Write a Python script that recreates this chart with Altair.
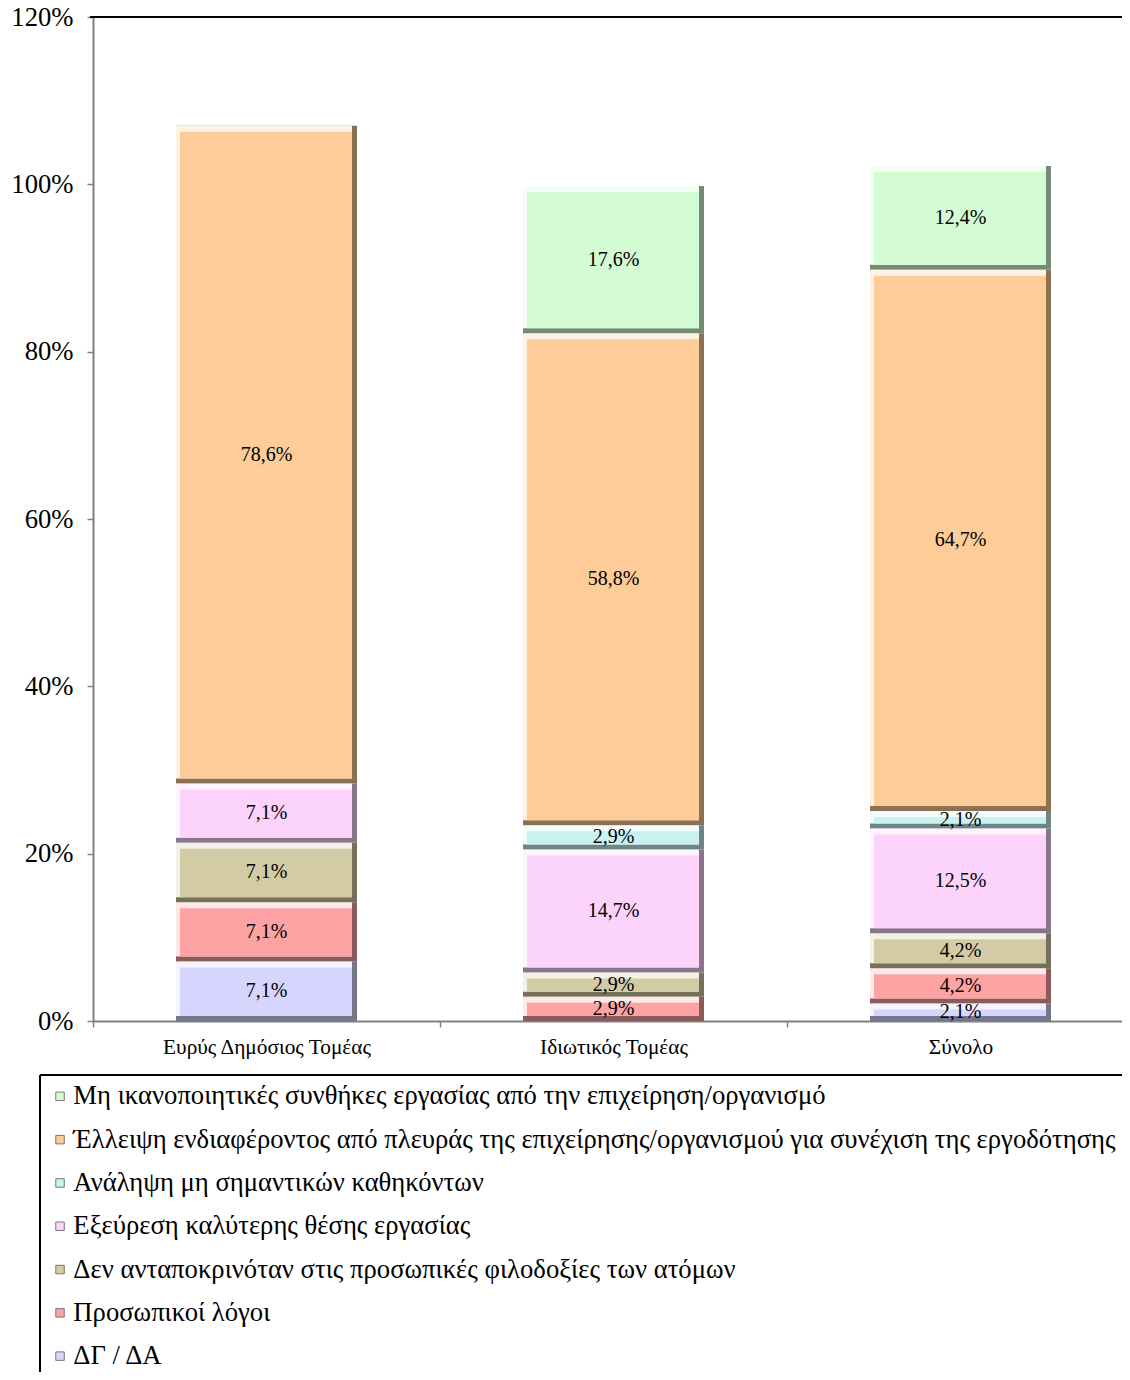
import altair as alt
import pandas as pd

categories = ["Ευρύς Δημόσιος Τομέας", "Ιδιωτικός Τομέας", "Σύνολο"]

# series listed bottom -> top of the stack
series = [
    "ΔΓ / ΔΑ",
    "Προσωπικοί λόγοι",
    "Δεν ανταποκρινόταν στις προσωπικές φιλοδοξίες των ατόμων",
    "Εξεύρεση καλύτερης θέσης εργασίας",
    "Ανάληψη μη σημαντικών καθηκόντων",
    "Έλλειψη ενδιαφέροντος από πλευράς της επιχείρησης/οργανισμού για συνέχιση της εργοδότησης",
    "Μη ικανοποιητικές συνθήκες εργασίας από την επιχείρηση/οργανισμό",
]

val_dg = [7.1, 0.0, 2.1]
val_pros = [7.1, 2.9, 4.2]
val_den = [7.1, 2.9, 4.2]
val_exe = [7.1, 14.7, 12.5]
val_anal = [0.0, 2.9, 2.1]
val_ell = [78.6, 58.8, 64.7]
val_mh = [0.0, 17.6, 12.4]

series_values = [val_dg, val_pros, val_den, val_exe, val_anal, val_ell, val_mh]

colors = ["#D5D5FD", "#FDA3A3", "#D2CBA5", "#FBD3FB", "#C9F1F1", "#FDCC99", "#D4FCD4"]

y_ticks = [0, 20, 40, 60, 80, 100, 120]


def mix(hexc, other, t):
    a = [int(hexc[i:i + 2], 16) for i in (1, 3, 5)]
    b = [int(other[i:i + 2], 16) for i in (1, 3, 5)]
    c = [round(a[k] * (1 - t) + b[k] * t) for k in range(3)]
    return "#%02x%02x%02x" % tuple(c)


rows = []
for si, (name, vals) in enumerate(zip(series, series_values)):
    for ci, cat in enumerate(categories):
        v = vals[ci]
        if v <= 0:
            continue
        rows.append({
            "cat": cat,
            "series": name,
            "order": si,
            "value": v,
            "label": f"{v:.1f}".replace(".", ",") + "%",
            "dark": mix(colors[si], "#000000", 0.45),
            "light": mix(colors[si], "#ffffff", 0.75),
        })
df = pd.DataFrame(rows)

W = 1029
H = 1004
XR = 1041
BW = 181
FONT = "Liberation Serif"

base = alt.Chart(df).transform_stack(
    stack="value", groupby=["cat"], sort=[alt.SortField("order")], as_=["v0", "v1"]
).transform_calculate(mid="(datum.v0 + datum.v1) / 2")

xenc = alt.X(
    "cat:N",
    sort=categories,
    title=None,
    scale=alt.Scale(paddingInner=0, paddingOuter=0, range=[0, XR]),
    axis=alt.Axis(
        labelAngle=0,
        labelFontSize=21.33,
        labelFont=FONT,
        labelColor="black",
        labelLimit=500,
        domainColor="#808080",
        domainWidth=2,
        tickColor="#808080",
        tickWidth=1.5,
        tickSize=6,
        tickBand="extent",
        labelPadding=9,
    ),
)
yenc = alt.Y(
    "v1:Q",
    title=None,
    scale=alt.Scale(domain=[0, 120], nice=False),
    axis=alt.Axis(
        values=y_ticks,
        labelExpr="datum.value + '%'",
        labelFontSize=26.67,
        labelFont=FONT,
        labelColor="black",
        domainColor="#808080",
        domainWidth=2,
        tickColor="#808080",
        tickWidth=1.5,
        tickSize=6,
        labelPadding=14,
        grid=False,
    ),
)

dark = base.mark_bar(width=BW).encode(
    x=xenc, y=yenc, y2="v0:Q", color=alt.Color("dark:N", scale=None)
)
light = base.mark_bar(width=BW - 5, xOffset=-2.5, y2Offset=-5).encode(
    x=xenc, y=yenc, y2="v0:Q", color=alt.Color("light:N", scale=None)
)
face = base.mark_bar(width=BW - 9, xOffset=-0.5, yOffset=6, y2Offset=-5).encode(
    x=xenc,
    y=yenc,
    y2="v0:Q",
    color=alt.Color(
        "series:N",
        scale=alt.Scale(domain=series[::-1], range=colors[::-1]),
        legend=alt.Legend(
            title=None,
            orient="none",
            legendX=-52.7,
            legendY=1066,
            direction="vertical",
            labelFont=FONT,
            labelFontSize=26.67,
            labelColor="black",
            labelLimit=2000,
            symbolType="square",
            symbolSize=72,
            symbolStrokeColor="#777777",
            symbolStrokeWidth=1,
            symbolOffset=6.4,
            labelOffset=0,
            rowPadding=15.3,
            padding=0,
        ),
    ),
)
txt = base.mark_text(
    font=FONT, fontSize=20, color="black", baseline="middle"
).encode(x=xenc, y=alt.Y("mid:Q"), text="label:N")

top_rule = alt.Chart(pd.DataFrame({"k": [0]})).mark_rule(
    color="black", strokeWidth=2
).encode(x=alt.value(-3), x2=alt.value(W + 20), y=alt.value(0))

legend_top = alt.Chart(pd.DataFrame({"k": [0]})).mark_rule(
    color="black", strokeWidth=2
).encode(x=alt.value(-53), x2=alt.value(W + 20), y=alt.value(1058))

legend_left = alt.Chart(pd.DataFrame({"k": [0]})).mark_rule(
    color="black", strokeWidth=2
).encode(x=alt.value(-53), y=alt.value(1058), y2=alt.value(1400))

chart = (
    alt.layer(dark, light, face, txt, top_rule, legend_top, legend_left)
    .properties(
        width=W,
        height=H,
        padding={"left": 85, "top": 9, "right": 0, "bottom": 351},
        autosize=alt.AutoSizeParams(type="none"),
        background="white",
    )
    .configure_view(fill="#FFFFCC", stroke=None)
    .configure(font=FONT)
)

chart.save("out.html", embed_options={"renderer": "svg", "actions": False})
